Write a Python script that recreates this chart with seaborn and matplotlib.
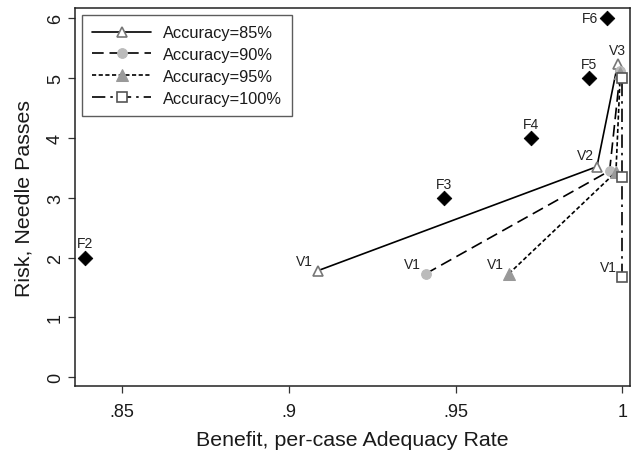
import matplotlib
matplotlib.use("Agg")
import matplotlib.pyplot as plt
import seaborn as sns

# Frontier (F) points
f_labels = ["F2", "F3", "F4", "F5", "F6"]
f_x = [0.839, 0.9465, 0.9727, 0.9899, 0.9955]
f_y = [2.0, 3.0, 4.0, 5.0, 6.0]

# V curves for each accuracy level
v_labels = ["V1", "V2", "V3"]
acc_names = ["Accuracy=85%", "Accuracy=90%", "Accuracy=95%", "Accuracy=100%"]
x85 = [0.9087, 0.9924, 0.9986]
y85 = [1.78, 3.52, 5.23]
x90 = [0.9411, 0.9962, 0.9994]
y90 = [1.73, 3.45, 5.12]
x95 = [0.9660, 0.9981, 0.9994]
y95 = [1.73, 3.43, 5.08]
x100 = [0.9998, 0.9998, 0.9998]
y100 = [1.68, 3.34, 5.0]

xticks = [0.85, 0.9, 0.95, 1.0]
xticklabels = [".85", ".9", ".95", "1"]
yticks = [0, 1, 2, 3, 4, 5, 6]

sns.set_style("ticks")
plt.rcParams["font.family"] = ["Liberation Sans", "DejaVu Sans"]
plt.rcParams["text.color"] = "#1a1a1a"
plt.rcParams["axes.labelcolor"] = "#1a1a1a"
plt.rcParams["xtick.color"] = "#333333"
plt.rcParams["ytick.color"] = "#333333"
plt.rcParams["xtick.labelcolor"] = "#1a1a1a"
plt.rcParams["ytick.labelcolor"] = "#1a1a1a"

fig = plt.figure(figsize=(6.36, 4.56), dpi=100)
ax = fig.add_axes([0.118, 0.151, 0.873, 0.829])

styles = [
    dict(linestyle="-", marker="^", markerfacecolor="white", markeredgecolor="#777777", markersize=7, markeredgewidth=1.2),
    dict(dashes=(7, 3.5), marker="o", markerfacecolor="#bbbbbb", markeredgecolor="#bbbbbb", markersize=7),
    dict(dashes=(2.5, 1.5), marker="^", markerfacecolor="#999999", markeredgecolor="#999999", markersize=8),
    dict(dashes=(8, 3, 1.5, 3), marker="s", markerfacecolor="white", markeredgecolor="#555555", markersize=6.5, markeredgewidth=1.2),
]
series = [(x85, y85), (x90, y90), (x95, y95), (x100, y100)]

for (xs, ys), name, st in zip(series, acc_names, styles):
    sns.lineplot(x=xs, y=ys, ax=ax, color="black", linewidth=1.2, sort=False,
                 label=name, estimator=None, **st)

sns.scatterplot(x=f_x, y=f_y, ax=ax, marker="D", color="black", s=55,
                edgecolor="black", zorder=5)

tc = "#222222"
for lab, xv, yv in zip(f_labels, f_x, f_y):
    if lab == "F6":
        ax.text(xv - 0.0028, yv, lab, ha="right", va="center", fontsize=10, color=tc)
    else:
        ax.text(xv, yv + 0.12, lab, ha="center", va="bottom", fontsize=10, color=tc)

# V1 labels for every curve, V2 / V3 only once
for xs, ys in series:
    ax.text(xs[0] - 0.0015, ys[0] + 0.05, "V1", ha="right", va="bottom", fontsize=10, color=tc)
ax.text(x85[1] - 0.0008, y85[1] + 0.08, "V2", ha="right", va="bottom", fontsize=10, color=tc)
ax.text(x85[2], y85[2] + 0.12, "V3", ha="center", va="bottom", fontsize=10, color=tc)

ax.set_xlim(0.8359, 1.0024)
ax.set_ylim(-0.15, 6.17)
ax.set_xticks(xticks)
ax.set_xticklabels(xticklabels)
ax.set_yticks(yticks)
ax.set_yticklabels([str(v) for v in yticks], rotation=90, va="center")
ax.tick_params(axis="both", labelsize=13, length=5, width=0.9)
ax.tick_params(axis="x", pad=7)
ax.tick_params(axis="y", pad=3)

for sp in ax.spines.values():
    sp.set_visible(True)
    sp.set_linewidth(1.1)
    sp.set_color("#222222")

ax.set_xlabel("Benefit, per-case Adequacy Rate", fontsize=15.4, labelpad=7)
ax.set_ylabel("Risk, Needle Passes", fontsize=15.4, labelpad=10)

leg = ax.legend(loc="upper left", fontsize=11.8, frameon=True, fancybox=False,
                borderpad=0.6, handlelength=3.6, labelspacing=0.42,
                borderaxespad=0.45, handletextpad=0.7)
leg.get_frame().set_edgecolor("#333333")
leg.get_frame().set_linewidth(1.0)

fig.savefig("out.png", dpi=100)
